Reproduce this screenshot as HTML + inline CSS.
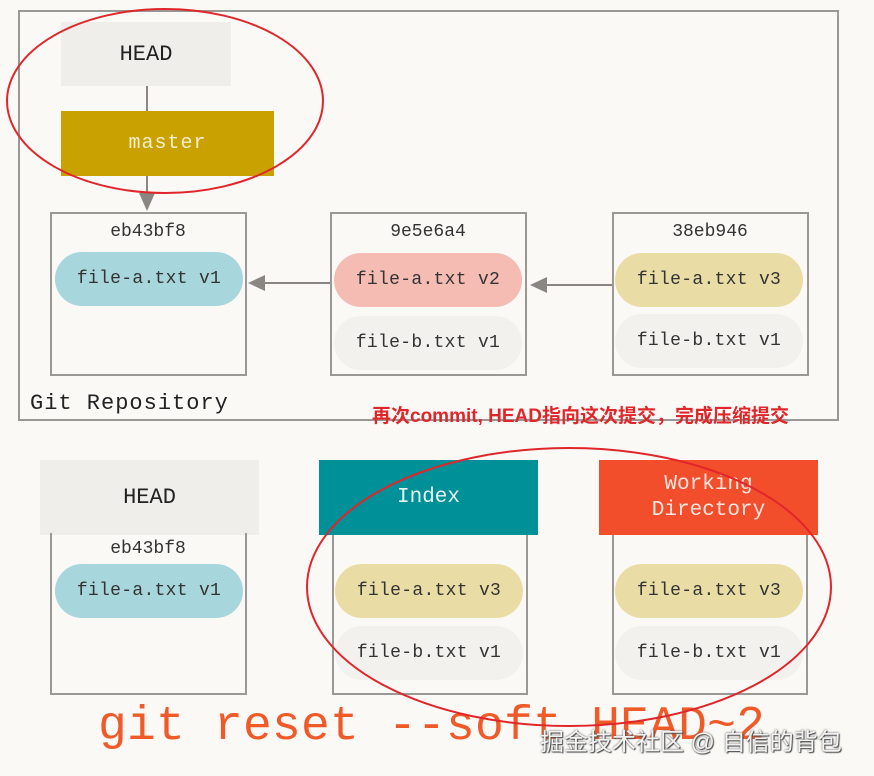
<!DOCTYPE html>
<html><head><meta charset="utf-8"><style>
body{margin:0;width:874px;height:776px;background:#faf9f6;position:relative;overflow:hidden;font-family:"Liberation Mono",monospace;color:#333}
div{position:absolute;box-sizing:border-box}
.box{border:2px solid #9a9894}
.c{display:flex;align-items:center;justify-content:center;text-align:center}
.pill{border-radius:28px;font-size:18px;height:54px;letter-spacing:0.3px}
.lbl{font-size:18px;width:196px;text-align:center}
</style></head><body>
<div class="box" style="left:18px;top:10px;width:821px;height:411px"></div>
<div class="c" style="left:61px;top:22px;width:170px;height:64px;background:#efeeea;font-size:22px;color:#222">HEAD</div>
<div style="left:146px;top:86px;width:2px;height:25px;background:#8a8782"></div>
<div class="c" style="left:61px;top:111px;width:213px;height:65px;background:#c9a100;color:#f4ecd0;font-size:20px;letter-spacing:1px">master</div>
<div style="left:146px;top:176px;width:2px;height:18px;background:#8a8782"></div>
<svg style="position:absolute;left:0;top:0" width="874" height="776">
<polygon points="139,193 155,193 147,211" fill="#8a8782"/>
<line x1="330" y1="283" x2="262" y2="283" stroke="#8a8782" stroke-width="2"/>
<polygon points="248,283 265,275 265,291" fill="#8a8782"/>
<line x1="612" y1="285" x2="545" y2="285" stroke="#8a8782" stroke-width="2"/>
<polygon points="530,285 547,277 547,293" fill="#8a8782"/>
</svg>

<div class="box" style="left:50px;top:212px;width:197px;height:164px"></div>
<div class="lbl" style="left:50px;top:222px">eb43bf8</div>
<div class="c pill" style="left:55px;top:252px;width:188px;background:#a7d6dc">file-a.txt v1</div>

<div class="box" style="left:330px;top:212px;width:197px;height:164px"></div>
<div class="lbl" style="left:330px;top:222px">9e5e6a4</div>
<div class="c pill" style="left:334px;top:253px;width:188px;background:#f5bcb3">file-a.txt v2</div>
<div class="c pill" style="left:334px;top:316px;width:188px;background:#f2f1ee">file-b.txt v1</div>

<div class="box" style="left:612px;top:212px;width:197px;height:164px"></div>
<div class="lbl" style="left:612px;top:222px">38eb946</div>
<div class="c pill" style="left:615px;top:253px;width:188px;background:#e9dca5">file-a.txt v3</div>
<div class="c pill" style="left:615px;top:314px;width:188px;background:#f2f1ee">file-b.txt v1</div>

<div style="left:30px;top:391px;font-size:22px;color:#222;letter-spacing:1px">Git Repository</div>
<div style="left:372px;top:401px;font-family:'Liberation Sans','Noto Sans CJK SC',sans-serif;font-weight:bold;font-size:19px;color:#e0262a;white-space:nowrap">再次commit, HEAD指向这次提交，完成压缩提交</div>

<div class="c" style="left:40px;top:460px;width:219px;height:75px;background:#efeeea;font-size:22px;color:#222">HEAD</div>
<div class="box" style="left:50px;top:533px;width:197px;height:162px;border-top:none"></div>
<div class="lbl" style="left:50px;top:539px">eb43bf8</div>
<div class="c pill" style="left:55px;top:564px;width:188px;background:#a7d6dc">file-a.txt v1</div>

<div class="c" style="left:319px;top:460px;width:219px;height:75px;background:#009098;color:#e8f4f4;font-size:21px">Index</div>
<div class="box" style="left:332px;top:535px;width:196px;height:160px;border-top:none"></div>
<div class="c pill" style="left:335px;top:564px;width:188px;background:#e9dca5">file-a.txt v3</div>
<div class="c pill" style="left:335px;top:626px;width:188px;background:#f2f1ee">file-b.txt v1</div>

<div class="c" style="left:599px;top:460px;width:219px;height:75px;background:#f24e2b;color:#fbe6e0;font-size:21px;line-height:26px">Working<br>Directory</div>
<div class="box" style="left:612px;top:535px;width:196px;height:160px;border-top:none"></div>
<div class="c pill" style="left:615px;top:564px;width:188px;background:#e9dca5">file-a.txt v3</div>
<div class="c pill" style="left:615px;top:626px;width:188px;background:#f2f1ee">file-b.txt v1</div>

<div style="left:98px;top:700px;font-size:48px;color:#f05a28;white-space:pre;letter-spacing:0.2px">git reset --soft HEAD~2</div>
<div style="left:540px;top:722px;font-family:'Liberation Sans','Noto Sans CJK SC',sans-serif;font-size:24px;color:#f2f2f2;text-shadow:0 0 2px #555,1px 1px 1px #444;white-space:pre">掘金技术社区 @ 自信的背包</div>

<svg style="position:absolute;left:0;top:0" width="874" height="776">
<ellipse cx="165" cy="101" rx="158" ry="92" fill="none" stroke="#e0262a" stroke-width="2"/>
<ellipse cx="569" cy="587" rx="262" ry="139" fill="none" stroke="#e0262a" stroke-width="2"/>
</svg>
</body></html>
